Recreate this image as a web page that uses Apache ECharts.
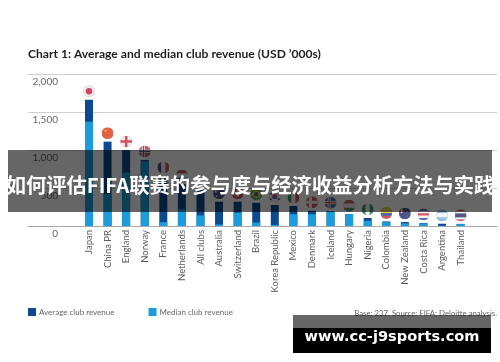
<!DOCTYPE html>
<html><head><meta charset="utf-8">
<style>html,body{margin:0;padding:0;background:#fff}#c{width:500px;height:362px}</style>
<script src="https://cdn.jsdelivr.net/npm/echarts@6/dist/echarts.min.js"></script>
</head><body><div id="c"></div>
<script>
const categories = ['Japan','China PR','England','Norway','France','Netherlands','All clubs','Australia','Switzerland','Brazil','Korea Republic','Mexico','Denmark','Iceland','Hungary','Nigeria','Colombia','New Zealand','Costa Rica','Argentina','Thailand'];
const averageRevenue = [1660,1110,1000,870,658,552,473,320,320,305,276,263,200,195,155,105,60,52,40,30,28];
const medianRevenue  = [1372,420,700,850,50,220,140,20,175,45,15,155,155,190,155,70,50,35,35,5,25];
const chartTitle = 'Chart 1: Average and median club revenue (USD ’000s)';
const sourceNote = 'Base: 237. Source: FIFA; Deloitte analysis.';
const bannerText = '如何评估FIFA联赛的参与度与经济收益分析方法与实践';
const siteText = 'www.cc-j9sports.com';

function st(colors){
  const h = 24/colors.length;
  return colors.map((c,i)=>`<rect x="0" y="${i*h}" width="24" height="${h+0.2}" fill="${c}"/>`).join('');
}
function vs(colors){
  const w = 24/colors.length;
  return colors.map((c,i)=>`<rect x="${i*w}" y="0" width="${w+0.2}" height="24" fill="${c}"/>`).join('');
}
const cross = (bg,a,b)=>`<rect width="24" height="24" fill="${bg}"/><rect x="6" width="6" height="24" fill="${a}"/><rect y="9" width="24" height="6" fill="${a}"/>`+(b?`<rect x="8" width="2.4" height="24" fill="${b}"/><rect y="10.8" width="24" height="2.4" fill="${b}"/>`:'');
const flagArt = {
  'Japan':'<rect width="24" height="24" fill="#efe9e9"/><circle cx="12" cy="12" r="6.5" fill="#c8173a"/>',
  'China PR':'<rect width="24" height="24" fill="#dd3a12"/><circle cx="8" cy="7" r="2" fill="#f2a81e"/>',
  'England':'<rect width="24" height="24" fill="#efeaea"/><rect x="9.5" width="5" height="24" fill="#cf2338"/><rect y="9.5" width="24" height="5" fill="#cf2338"/>',
  'Norway':cross('#b5343f','#e8e8e8','#1f3a6e'),
  'France':vs(['#1c2f6b','#f2f2f2','#d0283a']),
  'Netherlands':st(['#b5303c','#efefef','#20478c']),
  'Australia':'<rect width="24" height="24" fill="#1d2a6a"/><rect y="5" width="11" height="3" fill="#d03040"/><rect x="4" width="3" height="11" fill="#e9e9e9"/><circle cx="17" cy="15" r="1.8" fill="#fff"/><circle cx="7" cy="18" r="1.8" fill="#fff"/>',
  'Switzerland':'<rect width="24" height="24" fill="#c92a33"/><rect x="10" y="5" width="4" height="14" fill="#fff"/><rect x="5" y="10" width="14" height="4" fill="#fff"/>',
  'Brazil':'<rect width="24" height="24" fill="#3b9a3a"/><polygon points="12,4 23,12 12,20 1,12" fill="#eccc1e"/><circle cx="12" cy="12" r="4.5" fill="#1d3f8c"/>',
  'Korea Republic':'<rect width="24" height="24" fill="#f3f3f3"/><circle cx="12" cy="12" r="5" fill="#c9283a"/><path d="M7 12a5 5 0 0 0 10 0z" fill="#1f4a9a"/><rect x="2" y="5" width="4" height="3" fill="#222"/><rect x="18" y="5" width="4" height="3" fill="#222"/><rect x="2" y="16" width="4" height="3" fill="#222"/><rect x="18" y="16" width="4" height="3" fill="#222"/>',
  'Mexico':vs(['#1a7a4a','#f1f1f1','#c9283a']),
  'Denmark':cross('#c8283c','#f2f2f2'),
  'Iceland':cross('#1f4a94','#f0f0f0','#c9283a'),
  'Hungary':st(['#b83a3a','#f0f0f0','#3a7a4e']),
  'Nigeria':vs(['#0f8052','#f3f3f3','#0f8052']),
  'Colombia':'<rect width="24" height="12" fill="#eccb28"/><rect y="12" width="24" height="6" fill="#23408c"/><rect y="18" width="24" height="6" fill="#c8283c"/>',
  'New Zealand':'<rect width="24" height="24" fill="#1d2a6a"/><rect y="5" width="11" height="3" fill="#d03040"/><rect x="4" width="3" height="11" fill="#e9e9e9"/><circle cx="17" cy="9" r="1.6" fill="#d03040"/><circle cx="17" cy="17" r="1.6" fill="#d03040"/>',
  'Costa Rica':st(['#22408c','#f1f1f1','#cc2b3e','#f1f1f1','#22408c']),
  'Argentina':st(['#78b4e0','#f3f3f3','#78b4e0']),
  'Thailand':'<rect width="24" height="24" fill="#c92a3c"/><rect y="4" width="24" height="16" fill="#f1f1f1"/><rect y="8" width="24" height="8" fill="#23306e"/>'
};
function flagUri(name){
  const svg = `<svg xmlns="http://www.w3.org/2000/svg" width="48" height="48" viewBox="0 0 24 24"><defs><clipPath id="k"><circle cx="12" cy="12" r="12"/></clipPath></defs><g clip-path="url(#k)">${flagArt[name]}</g><circle cx="12" cy="12" r="11.3" fill="none" stroke="#888" stroke-opacity="0.35" stroke-width="1.4"/></svg>`;
  return 'image://data:image/svg+xml;charset=utf-8,' + encodeURIComponent(svg);
}
const flagPoints = categories.map((name,i)=>flagArt[name] ? {value:[name,averageRevenue[i]],symbol:flagUri(name)} : null).filter(Boolean);

const TXT = 'Lato,"Open Sans",sans-serif';
const chart = echarts.init(document.getElementById('c'),null,{renderer:'canvas'});
chart.setOption({
  animation:false,
  backgroundColor:'#fff',
  textStyle:{fontFamily:TXT},
  title:{text:chartTitle,left:28,top:48,padding:0,textStyle:{fontFamily:TXT,fontSize:12.1,fontWeight:'bold',color:'#1e1e1e'}},
  legend:{data:['Average club revenue','Median club revenue'],left:28,top:308,padding:0,itemWidth:8,itemHeight:8,itemGap:34,icon:'rect',
    textStyle:{fontFamily:TXT,fontSize:8,color:'#666',padding:[0,0,0,-2]}},
  grid:[
    {left:28,right:3,top:74,bottom:136},
    {left:79.7,width:390.2,top:74,bottom:136}
  ],
  xAxis:[
    {gridIndex:0,type:'value',min:0,max:1,axisLabel:{show:false},axisTick:{show:false},splitLine:{show:false},axisLine:{show:true,lineStyle:{color:'#a8a8a8',width:1}}},
    {gridIndex:1,type:'category',data:categories,axisTick:{show:false},axisLine:{show:false},
      axisLabel:{rotate:90,interval:0,margin:4,fontSize:9.5,color:'#5c5c5c',fontFamily:TXT}}
  ],
  yAxis:[
    {gridIndex:0,type:'value',min:0,max:2000,interval:500,axisLine:{show:false},axisTick:{show:false},
      splitLine:{lineStyle:{color:'#cfcfcf',width:1}},
      axisLabel:{inside:true,margin:30,align:'right',verticalAlign:'top',padding:[3,0,0,0],fontSize:10,color:'#666',fontFamily:TXT,
        formatter:v=>v.toLocaleString('en-US')}},
    {gridIndex:1,type:'value',min:0,max:2000,interval:500,show:false}
  ],
  series:[
    {name:'Average club revenue',type:'bar',xAxisIndex:1,yAxisIndex:1,data:averageRevenue,barWidth:8,barGap:'-100%',itemStyle:{color:'#0b4a8f'}},
    {name:'Median club revenue',type:'bar',xAxisIndex:1,yAxisIndex:1,data:medianRevenue,barWidth:8,barGap:'-100%',itemStyle:{color:'#1b9ddb'}},
    {name:'Flags',type:'scatter',xAxisIndex:1,yAxisIndex:1,data:flagPoints,symbolSize:12,symbolOffset:[0,-8.5],z:5,clip:false}
  ],
  graphic:{elements:[
    {type:'text',z:20,right:3,top:309,style:{text:sourceNote,fontFamily:TXT,fontSize:7.8,fill:'#666',textAlign:'right'}},
    {type:'rect',z:50,shape:{x:8,y:150,width:484,height:62},style:{fill:'rgba(0,0,0,0.6)'}},
    {type:'text',z:51,x:250,y:185,style:{text:bannerText,fontFamily:'"Noto Sans CJK SC",sans-serif',fontSize:20.3,fontWeight:'bold',fill:'#fff',textAlign:'center',textVerticalAlign:'middle'}},
    {type:'rect',z:50,shape:{x:293,y:315,width:198,height:13},style:{fill:'rgba(0,0,0,0.6)'}},
    {type:'rect',z:50,shape:{x:293,y:328,width:198,height:25},style:{fill:'#000'}},
    {type:'text',z:51,x:392,y:337.5,style:{text:siteText,fontFamily:'"DejaVu Sans",sans-serif',fontSize:14.6,fontWeight:'bold',fill:'#fff',textAlign:'center',textVerticalAlign:'middle'}}
  ]}
});
</script></body></html>
